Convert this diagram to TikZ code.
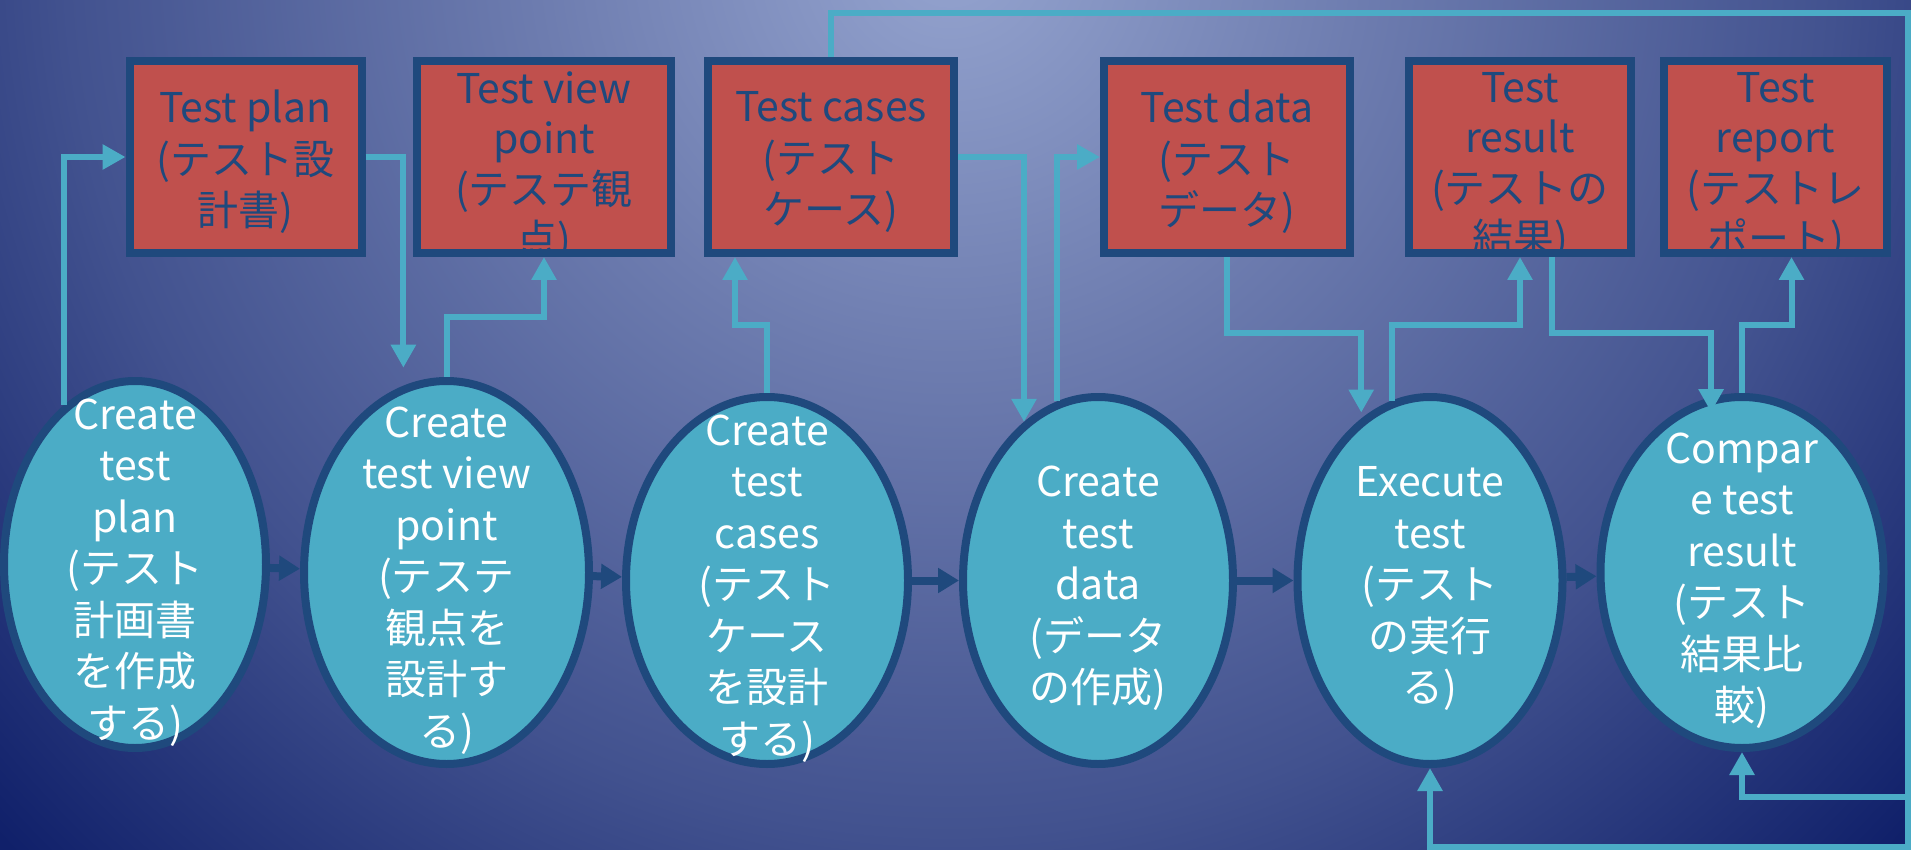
\documentclass[tikz,border=0pt]{standalone}
\usepackage{fontspec}
\setmainfont{Noto Sans CJK JP}
\usetikzlibrary{shapes.geometric,arrows.meta}
\definecolor{boxred}{HTML}{C0504D}
\definecolor{cyanf}{HTML}{4BACC6}
\definecolor{bord}{HTML}{1F497D}
\definecolor{bgA}{HTML}{95A4CF}
\definecolor{bgB}{HTML}{6D7CAF}
\definecolor{bgC}{HTML}{42528F}
\definecolor{bgD}{HTML}{10206A}
\pgfdeclareradialshading{bgshade}{\pgfpoint{0bp}{0bp}}{color(0bp)=(bgA); color(8bp)=(bgB); color(17bp)=(bgC); color(25bp)=(bgD); color(50bp)=(bgD)}
\tikzset{
  box/.style={rectangle, fill=boxred, line width=4pt, minimum height=96pt, inner sep=0pt,
    postaction={draw=bord, line width=4pt}},
  btext/.style={text=bord, align=center, inner sep=0pt, font=\fontsize{20.5pt}{25.75pt}\selectfont},
  btextb/.style={text=bord, align=center, inner sep=0pt, font=\fontsize{20.5pt}{25.2pt}\selectfont},
  btxt/.style={path picture={\node[btext] at ([yshift=-2.5pt]path picture bounding box.center) {#1};}},
  btxtb/.style={path picture={\node[btextb] at ([yshift=-5pt]path picture bounding box.center) {#1};}},
  ell/.style={ellipse, draw=bord, fill=cyanf, line width=4pt, inner sep=0pt},
  etext/.style={text=white, align=center, inner sep=0pt, yshift=-4pt, font=\fontsize{20.5pt}{25.75pt}\selectfont},
  conn/.style={draw=cyanf, line width=3pt},
  arr/.style={-{Triangle[length=11.5pt,width=12pt]}},
  flow/.style={draw=bord, line width=4pt, -{Triangle[length=10.5pt,width=12pt]}}
}
\begin{document}
\begin{tikzpicture}[x=0.5pt,y=-0.5pt]
\useasboundingbox (0,0) rectangle (1911,850);
\begin{scope}
\clip (0,0) rectangle (1911,850);
\fill[bgD] (0,0) rectangle (1911,850);
\shade[shading=bgshade] (950,-50) circle[radius=1300];
\end{scope}
% boxes
\node[box, minimum width=116pt, btxt={Test plan\\(テスト設\\計書)}] (b1) at (245.5,157) {};
\node[box, minimum width=127pt, btxtb={Test view\\point\\(テステ観\\点)}] (b2) at (544,157) {};
\node[box, minimum width=123pt, btxt={Test cases\\(テスト\\ケース)}] (b3) at (831,157) {};
\node[box, minimum width=123pt, btxt={Test data\\(テスト\\データ)}] (b4) at (1227,157) {};
\node[box, minimum width=111pt, btxtb={Test\\result\\(テストの\\結果)}] (b5) at (1520,157) {};
\node[box, minimum width=111.5pt, btxtb={Test\\report\\(テストレ\\ポート)}] (b6) at (1775.5,157) {};
% ellipses
\node[ell, minimum width=131pt, minimum height=183.5pt, label={[etext]center:{Create\\test\\plan\\(テスト\\計画書\\を作成\\する)}}] (e1) at (135,564.5) {};
\node[ell, minimum width=142.5pt, minimum height=191.5pt, label={[etext]center:{Create\\test view\\point\\(テステ\\観点を\\設計す\\る)}}] (e2) at (446.5,572.5) {};
\node[ell, minimum width=141pt, minimum height=183.5pt, label={[etext]center:{Create\\test\\cases\\(テスト\\ケース\\を設計\\する)}}] (e3) at (767,580.5) {};
\node[ell, minimum width=135pt, minimum height=183.5pt, label={[etext]center:{Create\\test\\data\\(データ\\の作成)}}] (e4) at (1098,580.5) {};
\node[ell, minimum width=132.5pt, minimum height=183.5pt, label={[etext]center:{Execute\\test\\(テスト\\の実行\\る)}}] (e5) at (1430,580.5) {};
\node[ell, minimum width=141.5pt, minimum height=175.5pt, label={[etext]center:{Compar\\e test\\result\\(テスト\\結果比\\較)}}] (e6) at (1742,572.5) {};
% flow arrows
\draw[flow] (e1) -- (e2);
\draw[flow] (e2) -- (e3);
\draw[flow] (e3) -- (e4);
\draw[flow] (e4) -- (e5);
\draw[flow] (e5) -- (e6);
% helper coordinates
\coordinate (b3o) at ([xshift=15.5pt]b3.south west);
\coordinate (b5o) at ([xshift=16pt]b5.south);
\coordinate (b6o) at ([xshift=8pt]b6.south);
\coordinate (e2i) at ([yshift=9pt]e2.103);
\coordinate (e5i) at ([yshift=3pt]e5.113);
\coordinate (e6i) at ([yshift=-7.5pt]e6.100);
\coordinate (rt) at (1908,13);
\coordinate (rb) at (1908,847);
\coordinate (rm) at (1908,797);
% connectors
\draw[conn,arr] (e1.114) |- (b1.west);
\draw[conn,arr] (b1.east) -| (e2i);
\draw[conn,arr] (e2.north) -- (e2.north |- 0,317) -| (b2.south);
\draw[conn,arr] (e3.north) -- (e3.north |- 0,325) -| (b3o);
\draw[conn,arr] (b3.east) -| (e4.115);
\draw[conn,arr] (e4.103) |- (b4.west);
\draw[conn,arr] (b4.south) -- (b4.south |- 0,333) -| (e5i);
\draw[conn,arr] (e5.102) -- (e5.102 |- 0,325) -| (b5.south);
\draw[conn,arr] (b5o) -- (b5o |- 0,333) -| (e6i);
\draw[conn,arr] (e6.north) -- (e6.north |- 0,325) -| (b6o);
\draw[conn,arr] (b3.north) -- (b3.north |- rt) -- (rt) -- (rb) -| (e5.south);
\draw[conn,arr] (rm) -| (e6.south);
\end{tikzpicture}
\end{document}
